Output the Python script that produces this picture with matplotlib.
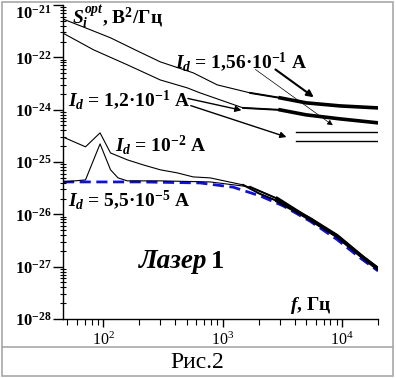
import numpy as np
import matplotlib
matplotlib.use("Agg")
import matplotlib.pyplot as plt
from matplotlib.ticker import FixedLocator, LogLocator, NullFormatter
from matplotlib.patches import Rectangle
from matplotlib.lines import Line2D

plt.rcParams["font.family"] = "Liberation Serif"
plt.rcParams["mathtext.fontset"] = "custom"
plt.rcParams["mathtext.rm"] = "Liberation Serif"
plt.rcParams["mathtext.it"] = "Liberation Serif:italic:bold"
plt.rcParams["mathtext.bf"] = "Liberation Serif:bold"

# spectra (f in Hz, S in V^2/Hz)
f_156 = [46, 71, 115, 185, 300, 566, 900, 1700, 3030, 5000, 9600, 20000]
s_156 = [5.4e-23, 3.66e-23, 2.36e-23, 1.39e-23, 8.2e-24, 5.06e-24, 2.98e-24,
         2.09e-24, 1.68e-24, 1.35e-24, 1.18e-24, 1.08e-24]

f_120 = [46, 83, 159, 300, 505, 648, 1485, 3030, 5000, 9600, 20000]
s_120 = [2.9e-23, 1.39e-23, 7.2e-24, 3.7e-24, 2.61e-24, 2.09e-24, 1.08e-24,
         9.9e-25, 7.96e-25, 6.67e-25, 5.6e-25]

f_1e2 = [46, 71, 94, 115, 159, 216, 300, 416, 566, 785, 1485, 2060, 2860,
         5400, 9080, 15000, 20000]
s_1e2 = [3.0e-25, 1.95e-25, 3.6e-25, 1.49e-25, 1.10e-25, 8.8e-26, 7.1e-26,
         6.2e-26, 5.19e-26, 4.97e-26, 3.65e-26, 2.45e-26, 1.8e-26, 8.2e-27,
         3.9e-27, 1.5e-27, 9.2e-28]

f_55 = [46, 71, 94, 115, 133, 159, 300, 785, 1700, 2860, 5400, 9080, 15000, 20000]
s_55 = [4.16e-26, 4.55e-26, 2.22e-25, 7.1e-26, 4.97e-26, 4.36e-26, 4.36e-26,
        4.16e-26, 3.34e-26, 2.0e-26, 8.0e-27, 3.8e-27, 1.5e-27, 9.0e-28]

f_fit = [46, 204, 648, 1225, 2060, 3210, 5400, 9080, 14160, 20000]
s_fit = [4.16e-26, 4.16e-26, 3.98e-26, 3.3e-26, 2.25e-26, 1.45e-26, 7.4e-27,
         3.3e-27, 1.47e-27, 8.3e-28]

f_shot = [4120, 20000]
s_shot_156 = 3.77e-25
s_shot_120 = 2.53e-25

ytick_vals = [1e-28, 1e-27, 1e-26, 1e-25, 1e-24, 1e-23, 1e-22]
ytick_txt = ["-28", "-27", "-26", "-25", "-24", "-22", "-21"]
xtick_vals = [1e2, 1e3, 1e4]
xtick_txt = ["2", "3", "4"]

W, H = 396, 378
fig = plt.figure(figsize=(W / 100, H / 100), dpi=100)
ax = fig.add_axes([63 / W, 1 - 319 / H, 315 / W, 314 / H])


def px(x, y):
    return x / W, 1 - y / H


def part(f, s, fmin):
    f = np.array(f)
    s = np.array(s)
    m = f >= fmin
    return f[m], s[m]


for f, s in [(f_156, s_156), (f_120, s_120), (f_1e2, s_1e2), (f_55, s_55)]:
    ax.plot(f, s, color="k", lw=0.8)
# noisy high-frequency ends look like a thick band
for f, s, f1, f2 in [(f_156, s_156, 1700, 3000), (f_120, s_120, 1485, 3000),
                     (f_1e2, s_1e2, 1400, 2800), (f_55, s_55, 1700, 2800)]:
    ax.plot(*part(f, s, f1), color="k", lw=1.4)
    ax.plot(*part(f, s, f2), color="k", lw=2.6)
ax.plot(f_fit, s_fit, color="#1010e0", lw=2, ls=(0, (4, 2)), zorder=1.5)
ax.plot(f_shot, [s_shot_156] * 2, color="k", lw=1)
ax.plot(f_shot, [s_shot_120] * 2, color="k", lw=1)

ax.set_xscale("log")
ax.set_yscale("log")
ax.set_xlim(46, 20000)
ax.set_ylim(1e-28, 1e-22)

ax.spines["top"].set_visible(False)
ax.spines["right"].set_visible(False)
ax.xaxis.set_major_locator(FixedLocator(xtick_vals))
ax.set_xticklabels([r"$\mathregular{10^{%s}}$" % t for t in xtick_txt], fontsize=11.5)
ax.xaxis.set_minor_locator(LogLocator(base=10, subs=np.arange(2, 10)))
ax.xaxis.set_minor_formatter(NullFormatter())
ax.yaxis.set_major_locator(FixedLocator(ytick_vals))
ax.set_yticklabels([r"$\mathregular{10^{%s}}$" % t for t in ytick_txt],
                   fontsize=12, fontweight="bold")
ax.yaxis.set_minor_locator(LogLocator(base=10, subs=np.arange(2, 10), numticks=20))
ax.yaxis.set_minor_formatter(NullFormatter())
ax.get_yticklabels()[-1].set_va("top")
ax.tick_params(axis="x", which="major", direction="out", length=6, width=1, pad=3)
ax.tick_params(axis="x", which="minor", direction="out", length=4, width=0.8)
ax.tick_params(axis="y", which="major", direction="out", length=7, width=1, pad=1)
ax.tick_params(axis="y", which="minor", direction="inout", length=5, width=0.8)
for sp in ("left", "bottom"):
    ax.spines[sp].set_linewidth(1)

# labels
fs = 14
fig.text(*px(72, 17), r"$S_i^{opt}$, B$\mathregular{^2}$/Гц", fontsize=fs,
         fontweight="bold", va="center")
fig.text(*px(175, 62), r"$I_d$ = 1,56·$\mathregular{10^{-1}}$ A", fontsize=fs,
         fontweight="bold", va="center")
fig.text(*px(68, 100), r"$I_d$ = 1,2·$\mathregular{10^{-1}}$ A", fontsize=fs,
         fontweight="bold", va="center")
fig.text(*px(115, 145), r"$I_d$ = $\mathregular{10^{-2}}$ A", fontsize=fs,
         fontweight="bold", va="center")
fig.text(*px(68, 200), r"$I_d$ = 5,5·$\mathregular{10^{-5}}$ A", fontsize=fs,
         fontweight="bold", va="center")
fig.text(*px(139, 262), "Лазер", fontsize=19.5, fontweight="bold", style="italic",
         va="center")
fig.text(*px(211, 262), "1", fontsize=19, fontweight="bold", va="center")
fig.text(*px(290, 306), r"$f$, Гц", fontsize=14, fontweight="bold", va="center")
fig.text(*px(197, 362), "Рис.2", fontsize=17, ha="center", va="center")

# arrows
ax.annotate("", xy=(6050, 1.61e-24), xytext=(2650, 6.3e-24),
            arrowprops=dict(arrowstyle="-|>", color="k", lw=1.5, mutation_scale=10))
ax.annotate("", xy=(8730, 4.69e-25), xytext=(1800, 6.3e-24),
            arrowprops=dict(arrowstyle="-|>", color="k", lw=0.5, mutation_scale=8))
ax.annotate("", xy=(1514, 9.5e-25), xytext=(485, 1.68e-24),
            arrowprops=dict(arrowstyle="-|>", color="k", lw=1.0, mutation_scale=9))
ax.annotate("", xy=(3600, 2.89e-25), xytext=(514, 1.24e-24),
            arrowprops=dict(arrowstyle="-|>", color="k", lw=1.0, mutation_scale=9))

# frame of the figure
grey = "#a8a8a8"
fig.patches.append(Rectangle((2 / W, 2 / H), 391 / W, 374 / H, transform=fig.transFigure,
                             fill=False, ec=grey, lw=1.2))
fig.lines.append(Line2D([2 / W, 393 / W], [1 - 347 / H] * 2, transform=fig.transFigure,
                        color=grey, lw=1.2))

fig.savefig("out.png", dpi=100)
